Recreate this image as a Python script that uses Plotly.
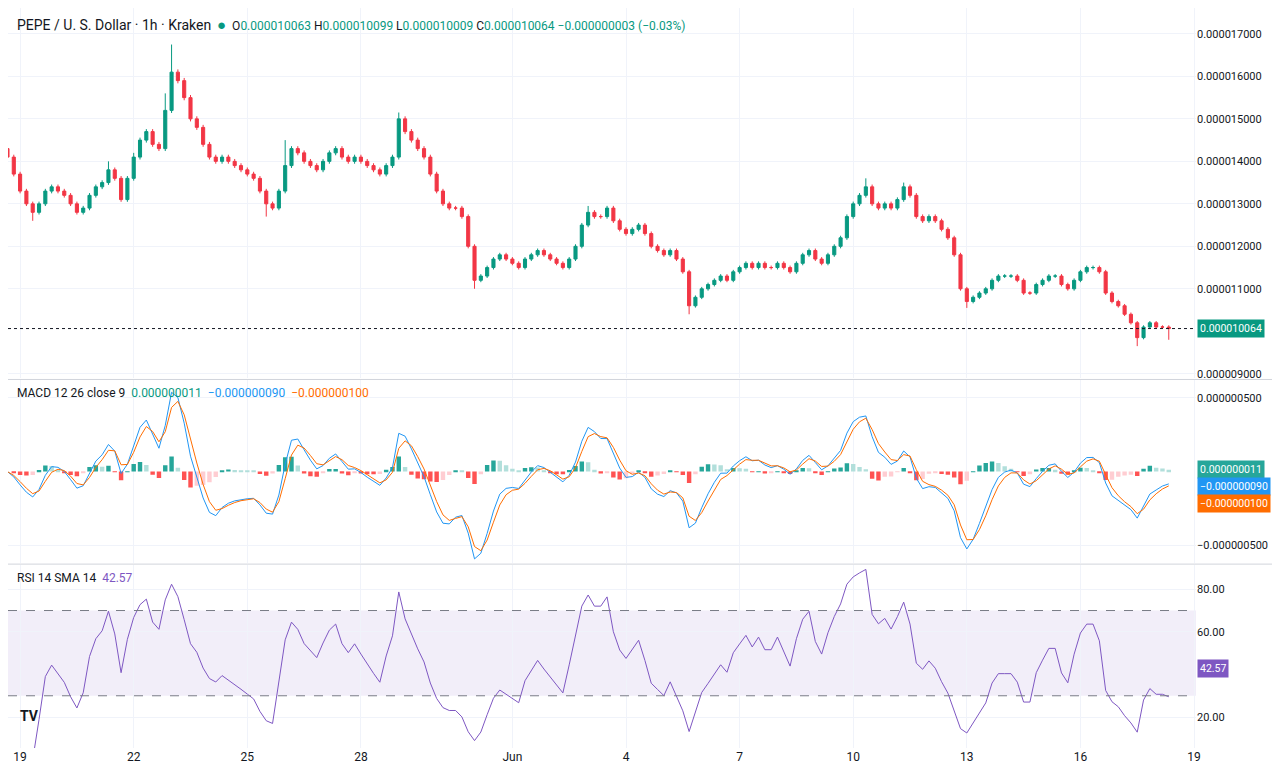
import pandas as pd
import numpy as np
import plotly.graph_objects as go

start = "2024-05-18 16:00"
closes = [14.1,13.7,13.3,13.0,12.8,13.0,13.3,13.4,13.3,13.2,13.0,12.8,12.9,13.2,13.4,13.5,13.8,13.6,13.1,13.6,
          14.1,14.5,14.7,14.4,14.3,15.2,16.1,15.9,15.5,15.0,14.8,14.4,14.1,14.0,14.1,14.0,13.9,13.8,13.7,13.6,
          13.3,13.0,12.9,13.3,13.9,14.3,14.2,14.0,13.9,13.8,14.0,14.2,14.3,14.1,14.0,14.1,14.0,13.9,13.8,13.7,
          13.9,14.1,15.0,14.7,14.5,14.3,14.1,13.7,13.3,13.0,12.9,12.9,12.7,12.0,11.2,11.3,11.5,11.7,11.8,11.7,
          11.6,11.5,11.7,11.8,11.9,11.8,11.7,11.6,11.5,11.7,12.0,12.5,12.8,12.7,12.7,12.9,12.6,12.4,12.3,12.4,
          12.5,12.3,12.0,11.9,11.8,11.9,11.7,11.4,10.6,10.8,11.0,11.1,11.2,11.3,11.2,11.4,11.5,11.6,11.5,11.6,
          11.5,11.5,11.6,11.5,11.4,11.6,11.8,11.9,11.7,11.6,11.8,12.0,12.2,12.7,13.0,13.2,13.4,13.0,12.9,13.0,
          12.9,13.1,13.4,13.2,12.7,12.6,12.7,12.6,12.4,12.2,11.8,11.0,10.7,10.8,10.9,11.0,11.2,11.3,11.3,11.3,
          11.2,10.9,10.9,11.1,11.2,11.3,11.3,11.1,11.0,11.2,11.4,11.5,11.5,11.4,10.9,10.7,10.6,10.4,10.2,9.85,
          10.1,10.2,10.1,10.1,10.064]
first_open = 14.3
wick_high = {25: 15.6, 26: 16.75, 62: 15.15, 44: 14.5, 136: 13.6, 142: 13.5, 92: 12.95, 20: 14.2, 16: 14.0}
wick_low = {179: 9.65, 108: 10.4, 74: 11.0, 152: 10.55, 184: 9.8, 4: 12.6, 41: 12.7}
price_ticks = [9, 11, 12, 13, 14, 15, 16, 17]
rsi_ticks = [20, 60, 80]
day_ticks = ["2024-05-19", "2024-05-22", "2024-05-25", "2024-05-28", "2024-06-01", "2024-06-04",
             "2024-06-07", "2024-06-10", "2024-06-13", "2024-06-16", "2024-06-19"]
day_labels = ["19", "22", "25", "28", "Jun", "4", "7", "10", "13", "16", "19"]

t = pd.date_range(start, periods=len(closes), freq="4h")
c = np.array(closes) * 1e-6
o = np.concatenate([[first_open * 1e-6], c[:-1]])
h = np.maximum(o, c) * 1.004
l = np.minimum(o, c) * 0.996
for k, v in wick_high.items(): h[k] = v * 1e-6
for k, v in wick_low.items(): l[k] = v * 1e-6

s = pd.Series(c)
macd = s.ewm(span=3).mean() - s.ewm(span=6.5).mean()
sig = macd.ewm(span=2.25).mean()
hist = macd - sig
d = s.diff()
up = d.clip(lower=0).ewm(alpha=1/7).mean()
dn = (-d.clip(upper=0)).ewm(alpha=1/7).mean()
rsi = 100 - 100 / (1 + up / dn)

UP, DN = "#089981", "#F23645"
fig = go.Figure()
fig.add_trace(go.Candlestick(x=t, open=o, high=h, low=l, close=c,
    increasing=dict(line=dict(color=UP, width=1), fillcolor=UP),
    decreasing=dict(line=dict(color=DN, width=1), fillcolor=DN), whiskerwidth=0, yaxis="y"))
hc = []
hv = hist.values
for i, v in enumerate(hv):
    prev = hv[i-1] if i else 0
    if v >= 0: hc.append("#26A69A" if v >= prev else "#B2DFDB")
    else: hc.append("#FF5252" if v < prev else "#FFCDD2")
fig.add_trace(go.Bar(x=t, y=hv, marker_color=hc, marker_line_width=0, yaxis="y2"))
fig.add_trace(go.Scatter(x=t, y=macd, line=dict(color="#2196F3", width=1), yaxis="y2", mode="lines"))
fig.add_trace(go.Scatter(x=t, y=sig, line=dict(color="#FF6D00", width=1), yaxis="y2", mode="lines"))
fig.add_trace(go.Scatter(x=t, y=rsi, line=dict(color="#7E57C2", width=1), yaxis="y3", mode="lines"))

x0, x1 = pd.Timestamp("2024-05-18 16:20"), pd.Timestamp("2024-06-19 01:15")
ax = dict(side="right", showline=False, gridcolor="#F0F3FA", zeroline=False, ticks="",
          tickfont=dict(size=11, color="#131722"), anchor="x")
fig.update_layout(
    width=1280, height=768, margin=dict(l=0, r=92, t=0, b=28), showlegend=False,
    plot_bgcolor="white", paper_bgcolor="white", bargap=0.3,
    font=dict(family="Roboto, sans-serif", color="#131722"),
    xaxis=dict(range=[x0, x1], rangeslider=dict(visible=False), tickvals=day_ticks, ticktext=day_labels,
               anchor="y3", gridcolor="#F0F3FA", showline=False, ticks="", tickfont=dict(size=12, color="#131722")),
    yaxis=dict(domain=[0.5, 1], range=[8.9e-6, 17.61e-6], tickvals=[v*1e-6 for v in price_ticks],
               tickformat=".9f", **ax),
    yaxis2=dict(domain=[0.25, 0.497], range=[-6.2e-7, 6.2e-7], tickvals=[-5e-7, 5e-7], tickformat=".9f", **ax),
    yaxis3=dict(domain=[0, 0.247], range=[5.5, 91.25], tickvals=rsi_ticks, tickformat=".2f", **ax),
)
fig.add_shape(type="rect", xref="x", yref="y3", x0=x0, x1=x1, y0=30, y1=70, fillcolor="rgba(126,87,194,0.1)",
              line_width=0, layer="below")
for yv in (30, 70):
    fig.add_shape(type="line", xref="x", yref="y3", x0=x0, x1=x1, y0=yv, y1=yv, line=dict(color="#787B86", width=1, dash="dash"))
fig.add_shape(type="line", xref="x", yref="y", x0=x0, x1=x1, y0=10.064e-6, y1=10.064e-6,
              line=dict(color="#131722", width=1, dash="dot"))
for yp in (0.498, 0.2485):
    fig.add_shape(type="line", xref="paper", yref="paper", x0=0, x1=1.077, y0=yp, y1=yp, line=dict(color="#D1D4DC", width=1))

def box(yref, y, text, color, shift=0):
    fig.add_annotation(xref="paper", yref=yref, x=1.001, y=y, text=text, showarrow=False, xanchor="left",
                       bgcolor=color, font=dict(color="white", size=10.5), borderpad=2, yshift=shift)
box("y", 10.064e-6, "0.000010064", UP)
box("y2", 0.0, "0.000000011", "#26A69A", 2)
box("y2", 0.0, "−0.000000090", "#2196F3", -15)
box("y2", 0.0, "−0.000000100", "#FF6D00", -32)
box("y3", 42.57, "42.57", "#7E57C2")

G = "#089981"
fig.add_annotation(xref="paper", yref="paper", x=0.006, y=1.0, yanchor="top", xanchor="left", showarrow=False, yshift=-6,
    text=("<span style='font-size:14px'>PEPE / U. S. Dollar · 1h · Kraken</span>  "
          f"<span style='color:{G};font-size:15px'>●</span>  "
          f"O<span style='color:{G}'>0.000010063</span> H<span style='color:{G}'>0.000010099</span> "
          f"L<span style='color:{G}'>0.000010009</span> C<span style='color:{G}'>0.000010064 −0.000000003 (−0.03%)</span>"),
    font=dict(size=12))
fig.add_annotation(xref="paper", yref="paper", x=0.006, y=0.492, yanchor="top", xanchor="left", showarrow=False,
    text=(f"MACD 12 26 close 9  <span style='color:{G}'>0.000000011</span>  "
          "<span style='color:#2196F3'>−0.000000090</span>  <span style='color:#FF6D00'>−0.000000100</span>"),
    font=dict(size=12))
fig.add_annotation(xref="paper", yref="paper", x=0.006, y=0.242, yanchor="top", xanchor="left", showarrow=False,
    text="RSI 14 SMA 14  <span style='color:#7E57C2'>42.57</span>", font=dict(size=12))
fig.add_annotation(xref="paper", yref="paper", x=0.008, y=0.03, xanchor="left", showarrow=False,
    text="<b>TV</b>", font=dict(size=14, color="#131722"))
fig.write_html("out.html")
